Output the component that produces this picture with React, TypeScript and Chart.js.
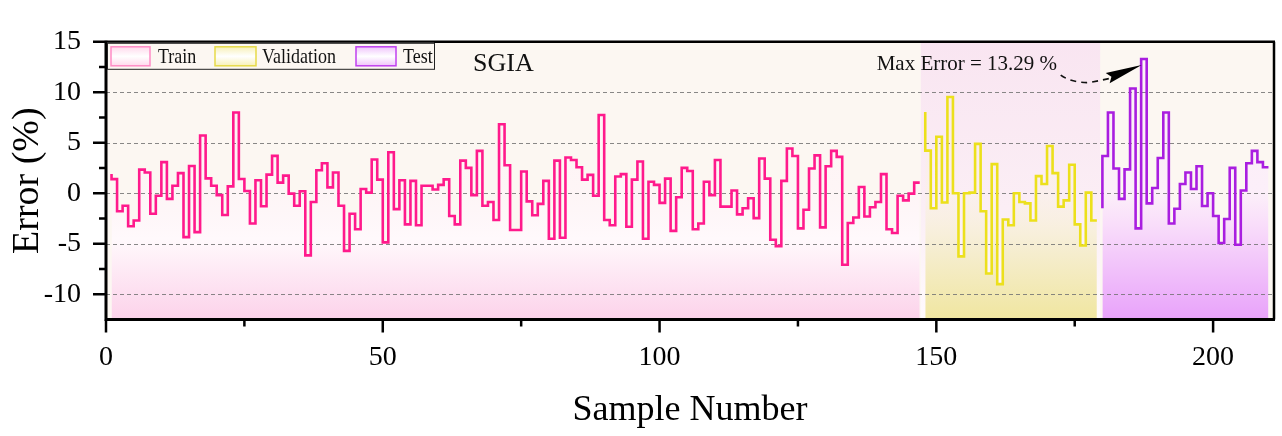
import React, { useEffect, useRef } from 'react';
import { Chart, registerables } from 'chart.js';

Chart.register(...registerables);

// ---------------- data ----------------
const trainStart = 1;
const trainErrors = [
  1.9, 1.4, -1.78, -1.23, -3.26, -2.7, 2.34, 2.06, -2.03, -0.25,
  3.08, -0.55, 0.74, 2.0, -4.34, 2.7, -3.85, 5.72, 1.48, 0.74,
  -0.18, -2.15, 0.68, 8.0, 1.42, 0.22, -3.0, 1.29, -1.29, 1.85,
  3.7, 1.05, 1.75, -0.03, -1.23, 0.2, -6.15, -0.86, 2.28, 2.98,
  0.58, 2.06, -1.23, -5.7, -2.03, -3.57, 0.43, 0.06, 3.35, 1.35,
  -4.86, 4.06, -1.57, 1.29, -3.08, 1.23, -3.17, 0.74, 0.74, 0.37,
  0.83, 1.38, -2.25, -3.08, 3.23, 2.52, -0.18, 4.2, -1.23, -0.86,
  -2.65, 6.83, 2.77, -3.63, -3.63, 2.15, -0.8, -2.18, -1.05, 1.23,
  -4.5, 3.23, -4.4, 3.54, 3.29, 2.58, 1.35, 1.82, -0.25, 7.75,
  -2.65, -3.17, 1.66, 1.9, -3.32, 1.35, 3.14, -4.5, 1.14, 0.83,
  -0.95, 1.45, -3.72, -0.4, 2.52, 2.2, -3.57, -3.0, 1.14, -0.18,
  3.29, -1.32, -1.32, 0.28, -2.09, -1.48, -0.49, -2.46, 3.45, 1.45,
  -4.6, -5.23, 1.23, 4.43, 3.69, -3.48, -1.63, 2.46, 3.75, -3.38,
  2.68, 4.2, 3.6, -7.08, -2.95, -2.4, 0.62, -2.3, -1.38, -0.86,
  1.9, -3.57, -3.94, -0.25, -0.7, -0.03, 1.05,
];

const validationStart = 148;
const validationErrors = [
  8.06, 4.22, -1.48, 5.6, -0.92, 9.54, 0, -6.25, 0, 0.06,
  4.89, -1.78, -7.94, 2.89, -9.0, -2.6, -3.17, 0, -0.86, -1.0,
  -2.7, 1.7, 0.92, 4.68, 2.0, -1.32, -0.7, 2.83, -3.08, -5.17,
  0.06, -2.7,
];

const testStart = 180;
const testErrors = [
  -1.48, 3.69, 8.0, 2.46, -0.55, 2.37, 10.37, -3.48, 13.29, -1.0,
  0.52, 3.5, 8.0, -3.0, -1.54, 0.92, 2.06, 0.43, 2.68, -1.26,
  0, -2.25, -4.92, -2.55, 2.52, -5.1, 0.28, 2.98, 4.2, 3.08,
  2.58,
];

const seriesNames = ['Train', 'Validation', 'Test'];
const xMajorTicks = [0, 50, 100, 150, 200];
const xMinorTicks = [25, 75, 125, 175];
const yMajorTicks = [-10, -5, 0, 5, 10, 15];
const yMinorTicks = [-7.5, -2.5, 2.5, 7.5, 12.5];
const chartTitle = 'SGIA';
const xTitle = 'Sample Number';
const yTitle = 'Error (%)';

// ---------------- styles ----------------
const FONT = "'Liberation Serif', 'Times New Roman', serif";
const lineColors = ['#ff1a8c', '#ece01c', '#a91ee0'];
const swatchBorders = ['#ff8cc6', '#e6da4a', '#c040f0'];
const swatchFills = ['#ffd9ec', '#f7f0b8', '#efc4fb'];

const fillStops: [number, string][][] = [
  [[15, 'rgba(255,236,246,0.25)'], [0, 'rgba(255,244,249,0.6)'], [-4.5, 'rgba(255,249,252,1)'], [-12.5, 'rgba(252,210,234,1)']],
  [[15, 'rgba(250,240,205,0.1)'], [0, 'rgba(250,241,228,0.45)'], [-5, 'rgba(246,238,212,1)'], [-12.5, 'rgba(240,230,160,1)']],
  [[15, 'rgba(250,232,250,0.2)'], [0, 'rgba(252,238,250,0.9)'], [-3, 'rgba(249,222,250,1)'], [-12.5, 'rgba(232,162,250,1)']],
];

function toPoints(start: number, values: number[]) {
  return values.map((y, i) => ({ x: start + i, y }));
}

function gradientFor(chart: any, stops: [number, string][]) {
  const { ctx, chartArea, scales } = chart;
  if (!chartArea || !scales.y) return 'transparent';
  const g = ctx.createLinearGradient(0, chartArea.top, 0, chartArea.bottom);
  const h = chartArea.bottom - chartArea.top;
  stops.forEach(([v, c]) => {
    const f = (scales.y.getPixelForValue(v) - chartArea.top) / h;
    g.addColorStop(Math.min(1, Math.max(0, f)), c);
  });
  return g;
}

const decorPlugin = {
  id: 'decor',
  beforeDraw(chart: any) {
    const { ctx, chartArea: a, scales } = chart;
    const x = scales.x;
    ctx.save();
    ctx.fillStyle = '#fcf7f2';
    ctx.fillRect(a.left, a.top, a.right - a.left, a.bottom - a.top);
    const x0 = x.getPixelForValue(validationStart - 0.8);
    const x1 = x.getPixelForValue(validationStart + validationErrors.length - 1 + 0.6);
    const g = ctx.createLinearGradient(0, a.top, 0, a.bottom);
    g.addColorStop(0, '#f9e5f1');
    g.addColorStop(0.6, '#fbeef5');
    g.addColorStop(1, '#fffafd');
    ctx.fillStyle = g;
    ctx.fillRect(x0, a.top, x1 - x0, a.bottom - a.top);
    ctx.restore();
  },
  beforeDatasetsDraw(chart: any) {
    const { ctx, chartArea: a, scales } = chart;
    const y = scales.y;
    ctx.save();
    ctx.strokeStyle = 'rgba(115,115,115,0.85)';
    ctx.lineWidth = 1;
    ctx.setLineDash([4, 3]);
    yMajorTicks.forEach((v) => {
      if (v >= y.max || v <= y.min) return;
      const py = Math.round(y.getPixelForValue(v)) + 0.5;
      ctx.beginPath();
      ctx.moveTo(a.left, py);
      ctx.lineTo(a.right, py);
      ctx.stroke();
    });
    ctx.restore();
  },
  afterDatasetsDraw(chart: any) {
    const { ctx, chartArea: a, scales } = chart;
    const x = scales.x;
    const y = scales.y;
    ctx.save();
    // frame
    ctx.strokeStyle = '#000';
    ctx.lineWidth = 3;
    ctx.beginPath();
    ctx.moveTo(a.left, a.top - 1);
    ctx.lineTo(a.left, a.bottom + 1.5);
    ctx.moveTo(a.left - 1.5, a.bottom);
    ctx.lineTo(a.right + 1, a.bottom);
    ctx.stroke();
    ctx.lineWidth = 2.5;
    ctx.beginPath();
    ctx.moveTo(a.left, a.top);
    ctx.lineTo(a.right + 1, a.top);
    ctx.moveTo(a.right, a.top);
    ctx.lineTo(a.right, a.bottom);
    ctx.stroke();
    // ticks
    ctx.lineWidth = 2.5;
    ctx.beginPath();
    xMajorTicks.forEach((v) => {
      const px = x.getPixelForValue(v);
      ctx.moveTo(px, a.bottom);
      ctx.lineTo(px, a.bottom + 13);
    });
    xMinorTicks.forEach((v) => {
      const px = x.getPixelForValue(v);
      ctx.moveTo(px, a.bottom);
      ctx.lineTo(px, a.bottom + 7);
    });
    yMajorTicks.forEach((v) => {
      const py = y.getPixelForValue(v);
      ctx.moveTo(a.left, py);
      ctx.lineTo(a.left - 13, py);
    });
    yMinorTicks.forEach((v) => {
      const py = y.getPixelForValue(v);
      ctx.moveTo(a.left, py);
      ctx.lineTo(a.left - 7, py);
    });
    ctx.stroke();

    // legend
    const lx = a.left + 1;
    const ly = a.top + 1;
    ctx.fillStyle = '#fcf7f2';
    ctx.fillRect(lx, ly, 327, 26);
    ctx.strokeStyle = '#222';
    ctx.lineWidth = 1;
    ctx.strokeRect(lx + 0.5, ly + 0.5, 327, 26);
    const swX = [4, 108, 249];
    const swW = [39, 41, 40];
    const txX = [51, 155, 296];
    seriesNames.forEach((name, i) => {
      const sx = lx + swX[i];
      const sy = ly + 4;
      const g = ctx.createLinearGradient(0, sy, 0, sy + 19);
      g.addColorStop(0, swatchFills[i]);
      g.addColorStop(0.5, '#ffffff');
      g.addColorStop(1, swatchFills[i]);
      ctx.fillStyle = g;
      ctx.fillRect(sx, sy, swW[i], 19);
      ctx.strokeStyle = swatchBorders[i];
      ctx.lineWidth = 1.5;
      ctx.strokeRect(sx, sy, swW[i], 19);
      ctx.save();
      ctx.translate(lx + txX[i], ly + 20.5);
      ctx.scale(1, 1.15);
      ctx.fillStyle = '#111';
      ctx.font = `18px ${FONT}`;
      ctx.textBaseline = 'alphabetic';
      ctx.fillText(name, 0, 0);
      ctx.restore();
    });

    // title
    ctx.fillStyle = '#111';
    ctx.font = `26px ${FONT}`;
    ctx.textBaseline = 'alphabetic';
    ctx.fillText(chartTitle, a.left + 367, a.top + 29);

    // annotation
    let mi = 0;
    testErrors.forEach((v, i) => { if (v > testErrors[mi]) mi = i; });
    const maxVal = testErrors[mi];
    const tx = x.getPixelForValue(testStart + mi) - 5;
    const ty = y.getPixelForValue(maxVal) + 6;
    ctx.font = `21px ${FONT}`;
    ctx.fillStyle = '#111';
    ctx.fillText(`Max Error = ${maxVal.toFixed(2)} %`, tx - 265, ty + 4.5);
    ctx.strokeStyle = '#111';
    ctx.lineWidth = 1.6;
    ctx.setLineDash([6, 5]);
    ctx.beginPath();
    ctx.moveTo(tx - 81, ty + 10);
    ctx.quadraticCurveTo(tx - 70, ty + 18, tx - 52, ty + 17.5);
    ctx.lineTo(tx - 30, ty + 13);
    ctx.stroke();
    ctx.setLineDash([]);
    const bx = tx - 34;
    const by = ty + 13;
    const dx = tx - bx;
    const dy = ty - by;
    const len = Math.hypot(dx, dy);
    const nx = -dy / len;
    const ny = dx / len;
    ctx.fillStyle = '#000';
    ctx.beginPath();
    ctx.moveTo(tx, ty);
    ctx.lineTo(bx + nx * 5.5, by + ny * 5.5);
    ctx.lineTo(bx + dx / len * 4, by + dy / len * 4);
    ctx.lineTo(bx - nx * 5.5, by - ny * 5.5);
    ctx.closePath();
    ctx.fill();
    ctx.restore();
  },
};

export default function App() {
  const canvasRef = useRef<HTMLCanvasElement | null>(null);

  useEffect(() => {
    document.body.style.margin = '0';
    const canvas = canvasRef.current;
    if (!canvas) return;
    const seriesData = [
      toPoints(trainStart, trainErrors),
      toPoints(validationStart, validationErrors),
      toPoints(testStart, testErrors),
    ];
    const chart = new Chart(canvas, {
      type: 'line',
      data: {
        datasets: seriesData.map((pts, i) => ({
          label: seriesNames[i],
          data: pts,
          borderColor: lineColors[i],
          borderWidth: 2.6,
          stepped: 'after' as const,
          pointRadius: 0,
          pointHoverRadius: 0,
          fill: 'start',
          backgroundColor: (c: any) => gradientFor(c.chart, fillStops[i]),
          borderJoinStyle: 'miter' as const,
        })),
      },
      options: {
        responsive: false,
        maintainAspectRatio: false,
        animation: false,
        layout: { padding: { top: 22, right: 8, bottom: 0, left: 0 } },
        plugins: {
          legend: { display: false },
          tooltip: { enabled: false },
          filler: { drawTime: 'beforeDatasetsDraw' },
        },
        scales: {
          x: {
            type: 'linear',
            min: 0,
            max: 211,
            grid: { display: false, drawTicks: false },
            border: { display: false },
            ticks: {
              stepSize: 50,
              includeBounds: false,
              autoSkip: false,
              maxRotation: 0,
              padding: 21,
              color: '#000',
              font: { family: FONT, size: 28 },
              callback: (v: any) => (xMajorTicks.includes(Number(v)) ? String(v) : ''),
            },
            title: {
              display: true,
              text: xTitle,
              color: '#000',
              font: { family: FONT, size: 36 },
              padding: { top: 0, bottom: 4 },
            },
            afterFit: (s: any) => { s.height = 116.5; },
          },
          y: {
            type: 'linear',
            min: -12.5,
            max: 15,
            grid: { display: false, drawTicks: false },
            border: { display: false },
            ticks: {
              stepSize: 5,
              includeBounds: false,
              autoSkip: false,
              padding: 25,
              color: '#000',
              font: { family: FONT, size: 28 },
              callback: (v: any) => (yMajorTicks.includes(Number(v)) ? String(v) : ''),
            },
            title: {
              display: true,
              text: yTitle,
              color: '#000',
              font: { family: FONT, size: 38 },
              padding: { top: 5, bottom: 0 },
            },
            afterFit: (s: any) => { s.width = 106; },
          },
        },
      },
      plugins: [decorPlugin],
    } as any);
    return () => chart.destroy();
  }, []);

  return (
    <div style={{ width: 1282, height: 436, position: 'relative' }}>
      <canvas ref={canvasRef} width={1282} height={436} style={{ display: 'block', width: 1282, height: 436 }} />
    </div>
  );
}
